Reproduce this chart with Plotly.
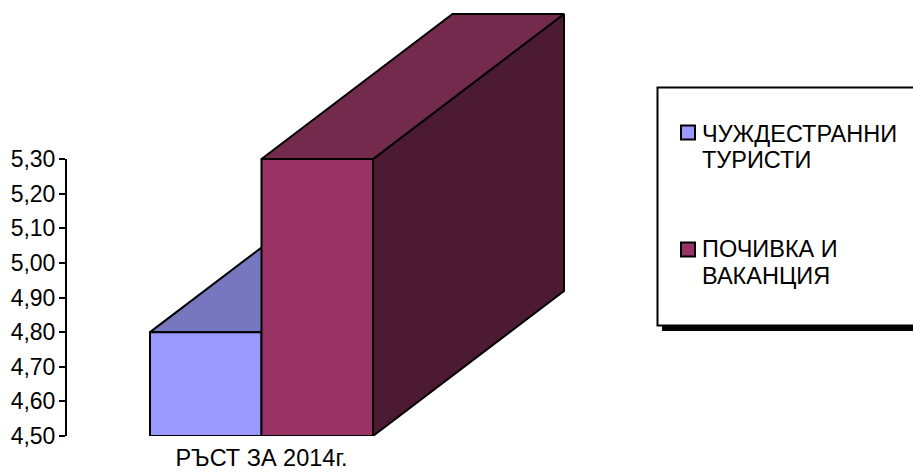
import plotly.graph_objects as go

category = "РЪСТ ЗА 2014г."
series_lines = [["ЧУЖДЕСТРАННИ", "ТУРИСТИ"], ["ПОЧИВКА И", "ВАКАНЦИЯ"]]
series_values = [4.80, 5.30]
front_colors = ["#9999FF", "#993366"]
top_colors = ["#7777BF", "#732A4D"]
side_colors = ["#4D1A33", "#4D1A33"]
y_ticks = [4.5, 4.6, 4.7, 4.8, 4.9, 5.0, 5.1, 5.2, 5.3]

W, H = 913, 472
L, R, T, B = 66, 457, 159, 436          # pixel box of the axis frame
PLOT_R, PLOT_T = 600, 4                 # drawing area, so the depth is not clipped
Y0, Y1 = 4.5, 5.3
x_unit = R - L
y_unit = (B - T) / (Y1 - Y0)
bar_w = 111.5 / x_unit
dx = 191 / x_unit
dy = 145 / y_unit
LINE = dict(color="black", width=2)
FONT = "Liberation Sans, Arial, sans-serif"
TEXT_SIZE = 23.5


def poly(xs, ys, color, name):
    return go.Scatter(x=xs, y=ys, mode="lines", fill="toself", fillcolor=color,
                      line=dict(color="black", width=2, simplify=False), cliponaxis=False,
                      showlegend=False, name=name, hoverinfo="name")


fig = go.Figure()
for i, (v, lines) in enumerate(zip(series_values, series_lines)):
    x0 = (i - 1) * bar_w
    x1 = x0 + bar_w
    name = " ".join(lines)
    fig.add_trace(poly([x1, x1 + dx, x1 + dx, x1, x1], [Y0, Y0 + dy, v + dy, v, Y0], side_colors[i], name))
    fig.add_trace(poly([x0, x0 + dx, x1 + dx, x1, x0], [v, v + dy, v + dy, v, v], top_colors[i], name))
    fig.add_trace(poly([x0, x1, x1, x0, x0], [Y0, Y0, v, v, Y0], front_colors[i], name))


def px(x):
    return (x - L) / (PLOT_R - L)


def py(y):
    return (B - y) / (B - PLOT_T)


shapes = [
    dict(type="line", xref="paper", yref="y", x0=0, x1=0, y0=Y0, y1=Y1, line=LINE),
    dict(type="rect", xref="paper", yref="paper", x0=px(662), x1=px(915), y0=py(331), y1=py(92),
         fillcolor="black", line=dict(width=0)),
    dict(type="rect", xref="paper", yref="paper", x0=px(657.5), x1=px(915), y0=py(325.5), y1=py(87.5),
         fillcolor="white", line=LINE),
]
annotations = []
swatch_tops = [125.5, 242.5]
text_centers = [[134, 160], [249, 276]]
for i, lines in enumerate(series_lines):
    shapes.append(dict(type="rect", xref="paper", yref="paper", x0=px(681), x1=px(695),
                       y0=py(swatch_tops[i] + 14), y1=py(swatch_tops[i]),
                       fillcolor=front_colors[i], line=LINE))
    for line, yc in zip(lines, text_centers[i]):
        annotations.append(dict(xref="paper", yref="paper", x=px(700), y=py(yc), text=line,
                                showarrow=False, xanchor="left", yanchor="middle", align="left",
                                font=dict(family=FONT, size=TEXT_SIZE, color="black")))

fig.update_layout(
    width=W, height=H, autosize=False,
    margin=dict(l=L, r=W - PLOT_R, t=PLOT_T, b=H - B, pad=0, autoexpand=False),
    paper_bgcolor="white", plot_bgcolor="white", separators=",.", showlegend=False,
    shapes=shapes, annotations=annotations,
    xaxis=dict(range=[-0.5, -0.5 + (PLOT_R - L) / x_unit], tickmode="array", tickvals=[0], ticktext=[category],
               automargin=False,
               showgrid=False, zeroline=False, showline=False, ticks="outside", ticklen=1,
               tickcolor="rgba(0,0,0,0)", tickfont=dict(family=FONT, size=TEXT_SIZE, color="black")),
    yaxis=dict(range=[Y0, Y0 + (B - PLOT_T) / y_unit], tickmode="array", tickvals=y_ticks, tickformat=".2f",
               automargin=False, ticklabelstandoff=-1,
               showgrid=False, zeroline=False, showline=False,
               ticks="outside", ticklen=6, tickwidth=2, tickcolor="black",
               tickfont=dict(family=FONT, size=23, color="black")),
)
fig.write_html("out.html", config=dict(displayModeBar=False),
               post_script="document.body.style.margin='0';document.body.style.overflow='hidden';")
